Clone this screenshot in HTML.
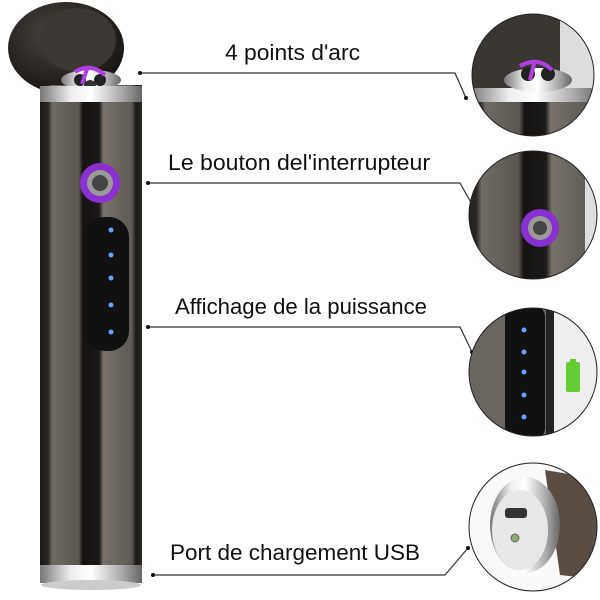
<!DOCTYPE html>
<html><head><meta charset="utf-8"><style>
html,body{margin:0;padding:0;background:#fff;}
svg{display:block}
text{font-family:"Liberation Sans",sans-serif;fill:#111;font-size:22.5px;}
</style></head><body>
<svg width="600" height="600" viewBox="0 0 600 600">
<defs>
<linearGradient id="body" x1="0" x2="1" y1="0" y2="0">
<stop offset="0" stop-color="#1a1816"/><stop offset="0.08" stop-color="#2a2724"/>
<stop offset="0.12" stop-color="#6f6a64"/><stop offset="0.38" stop-color="#5b5650"/>
<stop offset="0.42" stop-color="#151311"/><stop offset="0.58" stop-color="#1c1a18"/>
<stop offset="0.62" stop-color="#77716a"/><stop offset="0.9" stop-color="#5e5954"/>
<stop offset="0.94" stop-color="#1c1a18"/><stop offset="1" stop-color="#2a2724"/>
</linearGradient>
<linearGradient id="silver" x1="0" x2="1">
<stop offset="0" stop-color="#777"/><stop offset="0.3" stop-color="#eee"/><stop offset="0.5" stop-color="#fff"/><stop offset="0.8" stop-color="#aaa"/><stop offset="1" stop-color="#666"/>
</linearGradient>
<radialGradient id="cap" cx="0.4" cy="0.35" r="0.7">
<stop offset="0" stop-color="#4a4540"/><stop offset="0.6" stop-color="#2a2622"/><stop offset="1" stop-color="#151311"/>
</radialGradient>
<clipPath id="c1"><circle cx="533" cy="75" r="61"/></clipPath>
<clipPath id="c2"><circle cx="533" cy="215" r="64"/></clipPath>
<clipPath id="c3"><circle cx="533" cy="372" r="64"/></clipPath>
<clipPath id="c4"><circle cx="533" cy="527" r="64"/></clipPath>
</defs>
<ellipse cx="66" cy="48" rx="58" ry="46" fill="url(#cap)"/>
<ellipse cx="78" cy="40" rx="38" ry="32" fill="#3d3833"/>
<rect x="40" y="85" width="102" height="490" fill="url(#body)"/>
<ellipse cx="91" cy="80" rx="30" ry="10" fill="url(#silver)"/>
<circle cx="80" cy="80" r="6" fill="#222"/><circle cx="100" cy="80" r="6" fill="#222"/><circle cx="90" cy="86" r="6" fill="#333"/>
<path d="M75 72 Q90 62 105 75 M88 66 L82 84" stroke="#b040e0" stroke-width="4" fill="none"/>
<rect x="40" y="86" width="102" height="16" fill="url(#silver)"/>
<rect x="40" y="565" width="102" height="18" fill="url(#silver)"/>
<ellipse cx="91" cy="585" rx="50" ry="5" fill="#ccc"/>
<circle cx="100" cy="183" r="20" fill="#8a2fd0"/>
<circle cx="100" cy="183" r="13" fill="#999"/>
<circle cx="100" cy="183" r="8" fill="#444"/>
<rect x="85" y="217" width="44" height="134" rx="20" fill="#111"/>
<g fill="#6aa0ff"><circle cx="111" cy="230" r="2.5"/><circle cx="111" cy="255" r="2.5"/><circle cx="111" cy="278" r="2.5"/><circle cx="111" cy="305" r="2.5"/><circle cx="111" cy="332" r="2.5"/></g>
<text x="225" y="60" textLength="135" lengthAdjust="spacingAndGlyphs">4 points d'arc</text>
<text x="168" y="170" textLength="262" lengthAdjust="spacingAndGlyphs">Le bouton del'interrupteur</text>
<text x="175" y="314" textLength="252" lengthAdjust="spacingAndGlyphs">Affichage de la puissance</text>
<text x="170" y="560" textLength="250" lengthAdjust="spacingAndGlyphs">Port de chargement USB</text>
<g stroke="#333" stroke-width="1.2" fill="none">
<path d="M140 73 L455 73 L466 98"/>
<path d="M148 183 L460 183 L474 208"/>
<path d="M148 327 L460 327 L472 352"/>
<path d="M153 575 L445 575 L468 548"/>
</g>
<g fill="#111"><circle cx="140" cy="73" r="2"/><circle cx="466" cy="98" r="2"/><circle cx="148" cy="183" r="2"/><circle cx="474" cy="208" r="2"/><circle cx="148" cy="327" r="2"/><circle cx="472" cy="352" r="2"/><circle cx="153" cy="575" r="2"/><circle cx="468" cy="548" r="2"/></g>
<g clip-path="url(#c1)">
<rect x="470" y="10" width="130" height="130" fill="#3a3632"/>
<rect x="560" y="10" width="40" height="130" fill="#ddd"/>
<rect x="470" y="95" width="130" height="50" fill="url(#body)"/>
<rect x="470" y="88" width="130" height="14" fill="url(#silver)"/>
<ellipse cx="538" cy="80" rx="34" ry="12" fill="url(#silver)"/>
<circle cx="528" cy="74" r="7" fill="#222"/><circle cx="548" cy="74" r="7" fill="#222"/>
<path d="M520 66 Q538 56 552 70 M535 60 L530 80" stroke="#b040e0" stroke-width="4" fill="none"/>
</g>
<circle cx="533" cy="75" r="61" fill="none" stroke="#222" stroke-width="1"/>
<g clip-path="url(#c2)">
<rect x="465" y="150" width="140" height="130" fill="url(#body)"/>
<rect x="585" y="150" width="20" height="130" fill="#ddd"/>
<circle cx="540" cy="228" r="19" fill="#8a2fd0"/>
<circle cx="540" cy="228" r="12" fill="#999"/>
<circle cx="540" cy="228" r="7" fill="#444"/>
</g>
<circle cx="533" cy="215" r="64" fill="none" stroke="#222" stroke-width="1"/>
<g clip-path="url(#c3)">
<rect x="465" y="305" width="140" height="135" fill="#6a655f"/>
<rect x="505" y="305" width="40" height="135" rx="12" fill="#111"/>
<rect x="546" y="305" width="8" height="135" fill="#222"/>
<rect x="554" y="305" width="50" height="135" fill="#eee"/>
<g fill="#6aa0ff"><circle cx="524" cy="330" r="2.5"/><circle cx="524" cy="352" r="2.5"/><circle cx="524" cy="372" r="2.5"/><circle cx="524" cy="395" r="2.5"/><circle cx="524" cy="417" r="2.5"/></g>
<rect x="566" y="362" width="14" height="30" rx="2" fill="#6c3"/>
<rect x="570" y="359" width="6" height="4" fill="#6c3"/>
</g>
<circle cx="533" cy="372" r="64" fill="none" stroke="#222" stroke-width="1"/>
<g clip-path="url(#c4)">
<rect x="465" y="460" width="140" height="135" fill="#fafafa"/>
<path d="M545 470 L605 480 L605 580 L560 575 Z" fill="#5a4e44"/>
<ellipse cx="525" cy="525" rx="35" ry="48" fill="url(#silver)"/>
<ellipse cx="520" cy="530" rx="28" ry="40" fill="#e8e8e8"/>
<rect x="505" y="508" width="22" height="10" rx="3" fill="#333"/>
<circle cx="515" cy="538" r="4" fill="#8a7" stroke="#666"/>
</g>
<circle cx="533" cy="527" r="64" fill="none" stroke="#222" stroke-width="1"/>
</svg>
</body></html>
